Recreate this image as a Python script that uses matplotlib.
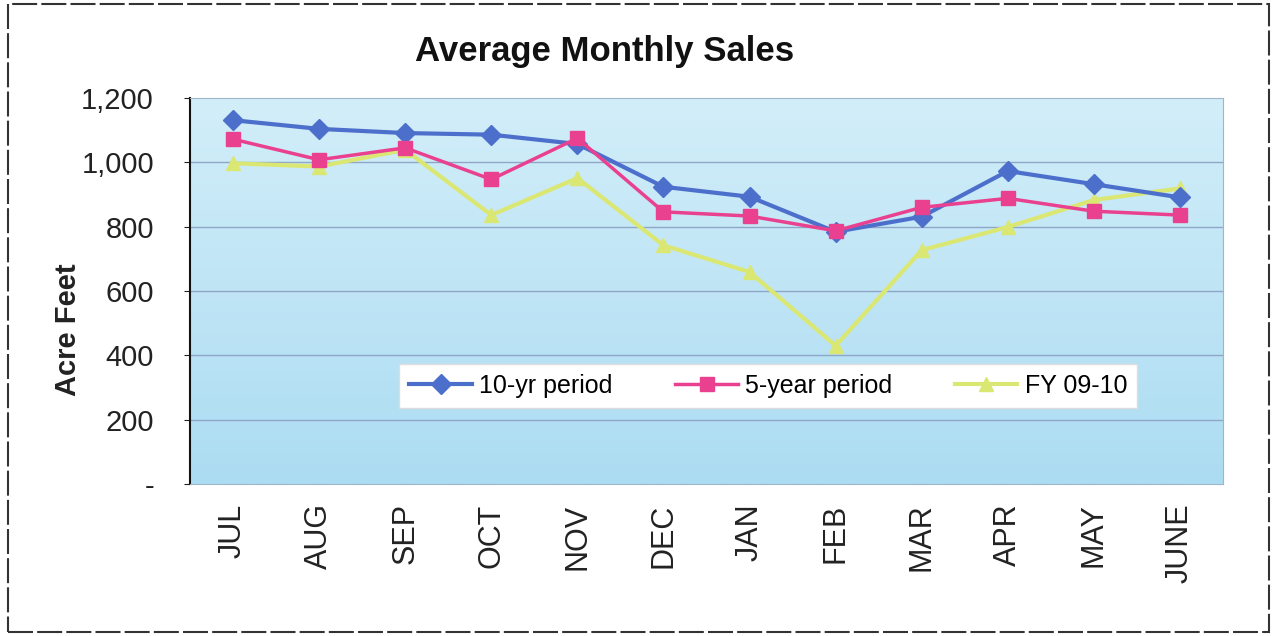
import matplotlib
matplotlib.use("Agg")
import matplotlib.pyplot as plt
import numpy as np
from matplotlib.ticker import FuncFormatter, FixedLocator
from matplotlib.patches import Rectangle
from matplotlib.colors import LinearSegmentedColormap

months = ["JUL", "AUG", "SEP", "OCT", "NOV", "DEC", "JAN", "FEB", "MAR", "APR", "MAY", "JUNE"]
ten_yr = [1131, 1104, 1091, 1086, 1057, 924, 893, 784, 831, 973, 932, 891]
five_yr = [1072, 1008, 1045, 947, 1075, 846, 833, 787, 860, 888, 848, 836]
fy_0910 = [997, 987, 1039, 836, 951, 742, 659, 430, 727, 799, 883, 919]
series_names = ["10-yr period", "5-year period", "FY 09-10"]

plt.rcParams['font.family'] = ['Liberation Sans', 'DejaVu Sans']

fig = plt.figure(figsize=(12.75, 6.36), dpi=100)
ax = fig.add_axes([190/1275, 1 - 484/636, (1223-190)/1275, (484-98)/636])

x = np.arange(len(months))
ax.set_xlim(-0.5, len(months) - 0.5)

# gradient background (lighter at top)
grad = np.linspace(0, 1, 256).reshape(-1, 1)
cmap = LinearSegmentedColormap.from_list("bg", ["#d2eef9", "#acdcf2"])
ax.imshow(grad, extent=[-0.5, len(months) - 0.5, 0, 1200], origin='upper',
          aspect='auto', cmap=cmap, zorder=0)
ax.set_ylim(0, 1200)

for v in [200, 400, 600, 800, 1000]:
    ax.axhline(v, color="#8fa6c8", lw=1.0, zorder=1)

ax.plot(x, ten_yr, color="#4d6fcc", lw=3, marker="D", ms=10, label=series_names[0], zorder=4)
ax.plot(x, five_yr, color="#e9418f", lw=2.5, marker="s", ms=10, label=series_names[1], zorder=5)
ax.plot(x, fy_0910, color="#dbe773", lw=3, marker="^", ms=10, label=series_names[2], zorder=3)

ax.yaxis.set_major_locator(FixedLocator([0, 200, 400, 600, 800, 1000, 1200]))
ax.yaxis.set_major_formatter(FuncFormatter(lambda v, p: "-" if v == 0 else f"{int(v):,}"))
ax.set_xticks(x)
ax.set_xticklabels(months, rotation=90, fontsize=22, color="#222222")
ax.tick_params(axis='y', labelsize=21, colors="#222222", length=4, pad=22)
ax.tick_params(axis='x', length=0, pad=14)

ax.set_ylabel("Acre Feet", fontsize=21, fontweight="bold", color="#222222")
ax.yaxis.set_label_coords(-0.105, 0.40)

for s in ["top", "right", "bottom"]:
    ax.spines[s].set_color("#9fb6c8")
ax.spines["left"].set_color("#111111")
ax.spines["left"].set_linewidth(1.5)

leg = ax.legend(loc="center", bbox_to_anchor=(0.56, 0.254), ncol=3, fontsize=18,
                frameon=True, fancybox=False, framealpha=1, edgecolor="#dddddd",
                handlelength=2.5, columnspacing=2.5, borderpad=0.4, handletextpad=0.3)

fig.text(605/1275, 1 - 52/636, "Average Monthly Sales", ha="center", va="center",
         fontsize=25, fontweight="bold", color="#111111")

fig.patches.append(Rectangle((8/1275, 4/636), 1 - 14/1275, 1 - 8/636, transform=fig.transFigure,
                             fill=False, edgecolor="#333333", lw=1.5, linestyle=(0, (12, 2))))

fig.savefig("out.png", dpi=100)
